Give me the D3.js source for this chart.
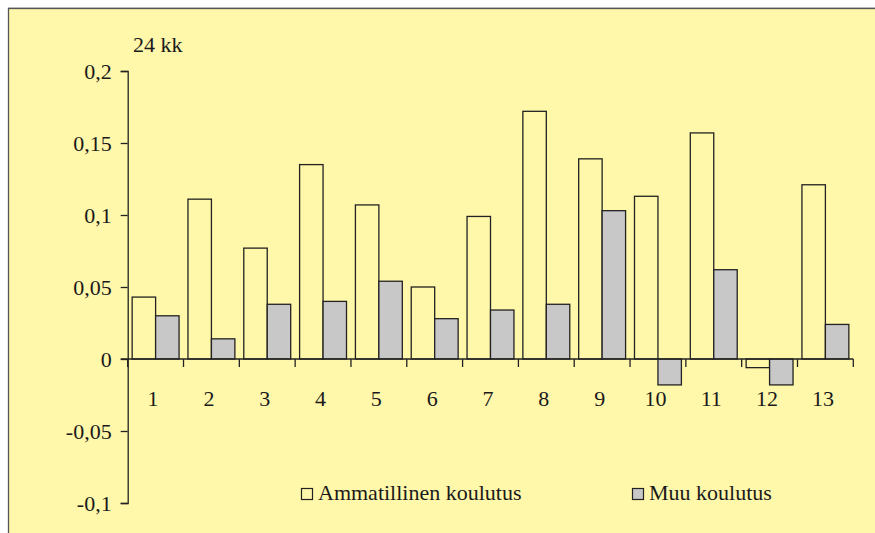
<!DOCTYPE html>
<html><head><meta charset="utf-8">
<script src="https://cdn.jsdelivr.net/npm/d3@7"></script>
<style>
html,body{margin:0;padding:0;background:#fff;}
svg{display:block;}
text{font-family:"Liberation Serif","Times New Roman",serif;fill:#1a1a1a;}
</style></head>
<body>
<svg id="chart" width="875" height="533"></svg>
<script>
const categories = ["1","2","3","4","5","6","7","8","9","10","11","12","13"];
const ammatillinen = [0.043, 0.111, 0.077, 0.135, 0.107, 0.050, 0.099, 0.172, 0.139, 0.113, 0.157, -0.006, 0.121];
const muu = [0.030, 0.014, 0.038, 0.040, 0.054, 0.028, 0.034, 0.038, 0.103, -0.018, 0.062, -0.018, 0.024];
const yTicks = [0.2, 0.15, 0.1, 0.05, 0, -0.05, -0.1];
const seriesNames = ["Ammatillinen koulutus", "Muu koulutus"];
const unitLabel = "24 kk";

const svg = d3.select("#chart");
const bg = "#FFF7AA";
svg.append("rect").attr("x",8.5).attr("y",8.5).attr("width",900).attr("height",600)
  .attr("fill",bg).attr("stroke","#555").attr("stroke-width",1.3);
svg.append("line").attr("x1",8).attr("x2",875).attr("y1",7.5).attr("y2",7.5).attr("stroke","#bbb");

const x0 = 127.7, x1 = 853.3;
const x = d3.scaleBand().domain(categories).range([x0, x1]).paddingInner(0).paddingOuter(0);
const xi = d3.scaleBand().domain([0,1]).range([0, x.bandwidth()]).paddingInner(0).paddingOuter(0.19);
const y = d3.scaleLinear().domain([-0.1, 0.2]).range([503, 71]);

const fmt = d => d === 0 ? "0" : String(d).replace(".", ",");

// y axis
const ya = svg.append("g").attr("transform", `translate(${x0},0)`)
  .call(d3.axisLeft(y).tickValues(yTicks).tickFormat(fmt).tickSize(7).tickPadding(9));
ya.select(".domain").attr("stroke","#222").attr("stroke-width",1.3);
ya.selectAll(".tick line").attr("stroke","#222").attr("stroke-width",1.3);
ya.selectAll("text").attr("font-size",22).attr("fill","#1a1a1a")
  .attr("font-family","Liberation Serif, serif");

// bars
const groups = svg.append("g").selectAll("g").data(categories).join("g")
  .attr("transform", d => `translate(${x(d)},0)`);
groups.append("rect")
  .attr("x", xi(0)).attr("width", xi.bandwidth())
  .attr("y", (d,i) => y(Math.max(0, ammatillinen[i])))
  .attr("height", (d,i) => Math.abs(y(ammatillinen[i]) - y(0)))
  .attr("fill", bg).attr("stroke","#222").attr("stroke-width",1.3);
groups.append("rect")
  .attr("x", xi(1)).attr("width", xi.bandwidth())
  .attr("y", (d,i) => y(Math.max(0, muu[i])))
  .attr("height", (d,i) => Math.abs(y(muu[i]) - y(0)))
  .attr("fill", "#C8C8C8").attr("stroke","#222").attr("stroke-width",1.3);

// x axis line and boundary ticks
svg.append("line").attr("x1",x0-7).attr("x2",x1).attr("y1",y(0)).attr("y2",y(0))
  .attr("stroke","#222").attr("stroke-width",1.3);
const bounds = categories.map(c => x(c)).concat([x1]);
svg.append("g").selectAll("line").data(bounds).join("line")
  .attr("x1", d=>d).attr("x2", d=>d).attr("y1", y(0)).attr("y2", y(0)+8)
  .attr("stroke","#222").attr("stroke-width",1.3);
// x labels
svg.append("g").selectAll("text").data(categories).join("text")
  .attr("x", d => x(d) + x.bandwidth()/2 - 2.5)
  .attr("y", y(0) + 47)
  .attr("text-anchor","middle").attr("font-size",22).text(d=>d);

// unit label
svg.append("text").attr("x",133).attr("y",52).attr("font-size",22).text(unitLabel);

// legend
const legend = [{x:301, fill:bg, label:seriesNames[0]}, {x:632, fill:"#C8C8C8", label:seriesNames[1]}];
const lg = svg.append("g").selectAll("g").data(legend).join("g");
lg.append("rect").attr("x", d=>d.x+0.5).attr("y",488.5).attr("width",11).attr("height",11)
  .attr("fill", d=>d.fill).attr("stroke","#222").attr("stroke-width",1.2);
lg.append("text").attr("x", d=>d.x+17).attr("y",500).attr("font-size",22).text(d=>d.label);
</script>
</body></html>
